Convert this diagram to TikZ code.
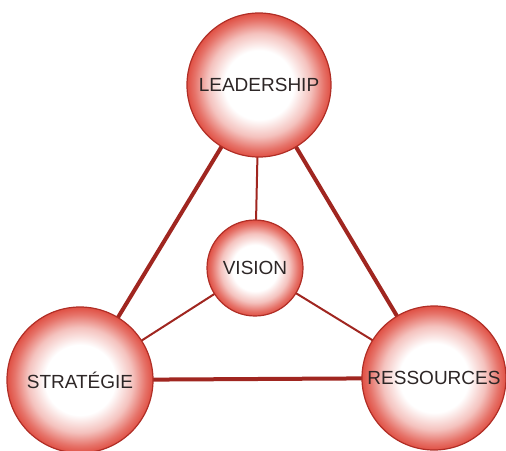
\documentclass[tikz,border=0pt]{standalone}
\usepackage{fontspec}
\setmainfont{Liberation Sans}
\usetikzlibrary{backgrounds}
\definecolor{edgered}{RGB}{224,80,68}
\definecolor{rimred}{RGB}{176,46,38}
\definecolor{linkred}{RGB}{160,38,32}
\definecolor{txt}{RGB}{45,38,38}
\pgfdeclareradialshading{sphereball}{\pgfpoint{0bp}{0bp}}{%
  color(0bp)=(white); color(12bp)=(white); color(18bp)=(edgered!35!white);
  color(22.5bp)=(edgered!80!white); color(25bp)=(edgered); color(50bp)=(edgered)}
\tikzset{
  ball/.style={circle, shading=sphereball, draw=rimred, line width=1.2pt,
    inner sep=0pt, text=txt, font=\fontsize{19}{21}\selectfont},
  thicklink/.style={draw=linkred, line width=4pt},
  thinlink/.style={draw=linkred, line width=2pt}
}
\begin{document}
\begin{tikzpicture}[x=1pt,y=-1pt]
\useasboundingbox (0,0) rectangle (506,450);
\node[ball, minimum size=144pt] (lead) at (259,85) {LEADERSHIP};
\node[ball, minimum size=96pt] (vis) at (255,268) {VISION};
\node[ball, minimum size=146pt] (strat) at (80,380) {STRATÉGIE};
\node[ball, minimum size=144pt] (res) at (434,378) {RESSOURCES};
\begin{scope}[on background layer]
\draw[thicklink] (lead.center) -- (strat.center);
\draw[thicklink] (lead.center) -- (res.center);
\draw[thicklink] (strat.center) -- (res.center);
\draw[thinlink] (vis.center) -- (lead.center);
\draw[thinlink] (vis.center) -- (strat.center);
\draw[thinlink] (vis.center) -- (res.center);
\end{scope}
\end{tikzpicture}
\end{document}
